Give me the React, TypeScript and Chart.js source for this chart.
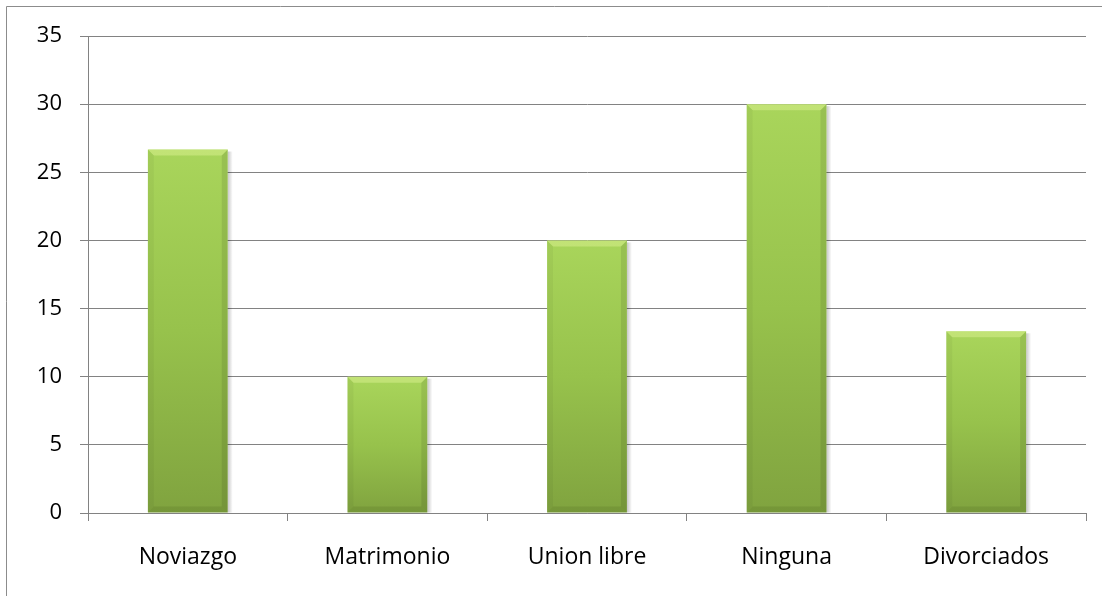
import React, { useEffect, useRef } from "react";
import { Chart, registerables } from "chart.js";

Chart.register(...registerables);

const categories: string[] = ["Noviazgo", "Matrimonio", "Union libre", "Ninguna", "Divorciados"];
const values: number[] = [26.67, 10, 20, 30, 13.33];
const yMin = 0;
const yMax = 35;
const yStep = 5;

const FONT = "'Open Sans', 'Noto Sans', sans-serif";
const GRID = "#828282";

const framePlugin = {
  id: "frame",
  beforeDraw(chart: any) {
    const ctx = chart.ctx;
    ctx.save();
    ctx.fillStyle = "#ffffff";
    ctx.fillRect(0, 0, chart.width, chart.height);
    ctx.strokeStyle = "#8c8c8c";
    ctx.lineWidth = 1;
    ctx.beginPath();
    ctx.moveTo(6.5, chart.height);
    ctx.lineTo(6.5, 6.5);
    ctx.lineTo(chart.width, 6.5);
    ctx.stroke();
    ctx.restore();
  },
};

const bevelPlugin = {
  id: "bevel",
  beforeDatasetsDraw(chart: any) {
    const ctx = chart.ctx;
    const meta = chart.getDatasetMeta(0);
    ctx.save();
    meta.data.forEach((el: any) => {
      const right = el.x + el.width / 2;
      const top = el.y;
      const bottom = el.base;
      const g = ctx.createLinearGradient(right, 0, right + 5, 0);
      g.addColorStop(0, "rgba(0,0,0,0.22)");
      g.addColorStop(1, "rgba(0,0,0,0)");
      ctx.fillStyle = g;
      ctx.fillRect(right, top + 2, 5, bottom - top - 2);
    });
    ctx.restore();
  },
  afterDatasetsDraw(chart: any) {
    const ctx = chart.ctx;
    const meta = chart.getDatasetMeta(0);
    const b = 6;
    ctx.save();
    meta.data.forEach((el: any) => {
      const left = el.x - el.width / 2;
      const right = el.x + el.width / 2;
      const top = el.y;
      const bottom = el.base;
      // top bevel
      ctx.fillStyle = "rgba(225,245,150,0.45)";
      ctx.beginPath();
      ctx.moveTo(left, top);
      ctx.lineTo(right, top);
      ctx.lineTo(right - b, top + b);
      ctx.lineTo(left + b, top + b);
      ctx.closePath();
      ctx.fill();
      // left bevel
      ctx.fillStyle = "rgba(0,0,0,0.04)";
      ctx.beginPath();
      ctx.moveTo(left, top);
      ctx.lineTo(left + b, top + b);
      ctx.lineTo(left + b, bottom - b);
      ctx.lineTo(left, bottom);
      ctx.closePath();
      ctx.fill();
      // right bevel
      ctx.fillStyle = "rgba(0,0,0,0.09)";
      ctx.beginPath();
      ctx.moveTo(right, top);
      ctx.lineTo(right - b, top + b);
      ctx.lineTo(right - b, bottom - b);
      ctx.lineTo(right, bottom);
      ctx.closePath();
      ctx.fill();
      // bottom bevel
      ctx.fillStyle = "rgba(40,60,10,0.12)";
      ctx.beginPath();
      ctx.moveTo(left, bottom);
      ctx.lineTo(right, bottom);
      ctx.lineTo(right - b, bottom - b);
      ctx.lineTo(left + b, bottom - b);
      ctx.closePath();
      ctx.fill();
    });
    ctx.restore();
  },
};

export default function App() {
  const ref = useRef<HTMLCanvasElement | null>(null);

  useEffect(() => {
    if (!ref.current) return;
    const chart = new Chart(ref.current, {
      type: "bar",
      data: {
        labels: categories,
        datasets: [
          {
            data: values,
            barPercentage: 0.4,
            categoryPercentage: 1,
            borderWidth: 0,
            backgroundColor: (c: any) => {
              const ch = c.chart;
              const ys = ch.scales && ch.scales.y;
              if (!ch.chartArea || !ys || c.raw == null) return "#95bf4b";
              const yTop = ys.getPixelForValue(c.raw);
              const yBot = ys.getPixelForValue(0);
              if (!isFinite(yTop) || !isFinite(yBot) || yTop === yBot) return "#95bf4b";
              const g = ch.ctx.createLinearGradient(0, yTop, 0, yBot);
              g.addColorStop(0, "#a9d55b");
              g.addColorStop(0.5, "#97c24c");
              g.addColorStop(1, "#80a33f");
              return g;
            },
          },
        ],
      },
      options: {
        responsive: false,
        animation: false,
        layout: { padding: { top: 36, right: 16, left: 0, bottom: 0 } },
        plugins: {
          legend: { display: false },
          tooltip: { enabled: false },
          title: { display: false },
        },
        scales: {
          x: {
            offset: true,
            grid: {
              display: true,
              offset: true,
              drawOnChartArea: false,
              drawTicks: true,
              tickLength: 8,
              color: GRID,
            },
            border: { display: true, color: GRID, width: 1 },
            ticks: {
              color: "#000000",
              font: { family: FONT, size: 23 },
              padding: 23,
              maxRotation: 0,
              autoSkip: false,
            },
            afterFit(scale: any) {
              scale.height = 83;
            },
          },
          y: {
            min: yMin,
            max: yMax,
            grid: {
              display: true,
              drawTicks: true,
              tickLength: 8,
              color: GRID,
            },
            border: { display: true, color: GRID, width: 1 },
            ticks: {
              stepSize: yStep,
              color: "#000000",
              font: { family: FONT, size: 22 },
              padding: 18,
            },
            afterFit(scale: any) {
              scale.width = 88;
            },
          },
        },
      },
      plugins: [framePlugin, bevelPlugin],
    });
    return () => chart.destroy();
  }, []);

  return (
    <div style={{ position: "fixed", left: 0, top: 0, width: 1102, height: 596, background: "#fff" }}>
      <canvas ref={ref} width={1102} height={596} style={{ display: "block", width: 1102, height: 596 }} />
    </div>
  );
}
